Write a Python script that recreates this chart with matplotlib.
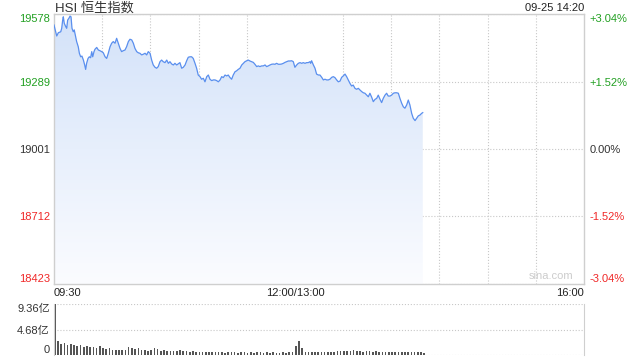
import numpy as np
import matplotlib
matplotlib.use("Agg")
import matplotlib.pyplot as plt
from matplotlib.patches import Polygon
from matplotlib.colors import LinearSegmentedColormap

plt.rcParams['font.family'] = ['Liberation Sans', 'Noto Sans CJK SC', 'DejaVu Sans']

# ---- data ----
title = "HSI 恒生指数"
stamp = "09-25 14:20"
prev_close = 19001
price_ticks = [18423, 18712, 19001, 19289, 19578]
time_labels = ["09:30", "12:00/13:00", "16:00"]
time_label_pos = [0, 150, 330]          # trading minutes after 09:30
session_len = 330

# trading minutes after 09:30 (lunch break removed) and index level
t_price = [0, 1.7, 2.7, 4.2, 4.8, 5.4, 5.8, 6.4, 7.3, 7.9, 8.5, 9.3, 10, 10.6, 11.2, 12,
           12.6, 13.5, 14.1, 15.1, 15.8, 16.6, 17.4, 18.3, 19.1, 19.7, 20.3, 21.2, 22,
           22.8, 23.5, 24.1, 24.9, 25.5, 26.6, 27.6, 28.6, 29.7, 30.7, 31.8, 32.8, 33.8,
           34.9, 35.9, 36.9, 38, 39, 40, 41.1, 42.1, 43.1, 44.2, 45.2, 46.3, 47.3, 48.4,
           49.4, 50.4, 51.5, 52.5, 53.5, 54.6, 55.6, 56.7, 57.7, 58.7, 59.8, 60.8, 61.8,
           62.9, 63.9, 64.9, 66, 67, 68, 69.1, 70.2, 71.2, 72.2, 73.3, 74.3, 75.3, 76.4,
           78.4, 79.5, 80.5, 81.6, 82.6, 83.6, 84.7, 85.7, 86.7, 87.8, 88.8, 89.8, 90.9,
           91.9, 93, 94, 95.1, 96.1, 97.1, 98.2, 99.2, 100.2, 101.3, 102.3, 103.4, 104.4,
           105.4, 106.5, 107.5, 108.5, 109.6, 110.6, 111.6, 112.7, 113.7, 114.7, 115.8,
           116.9, 117.9, 118.9, 120, 121, 122, 123.1, 124.1, 125.1, 126.2, 127.2, 128.2,
           129.3, 130.3, 131.4, 132.4, 133.4, 134.5, 135.5, 136.5, 137.6, 138.6, 139.7,
           140.7, 141.7, 142.8, 143.8, 144.9, 145.9, 146.9, 148, 149, 150, 151.1, 152.1,
           153.2, 154.2, 155.2, 156.3, 157.3, 158.3, 159.4, 159.8, 160.4, 161.5, 162.5,
           163.5, 164.6, 165.6, 166.7, 167.7, 168.7, 169.8, 170.8, 171.8, 172.9, 173.9,
           174.9, 176, 177, 178.1, 179.1, 180.1, 181.2, 182.2, 183.2, 184.3, 185.3, 186.3,
           187.4, 188.4, 189.5, 190.5, 191.6, 192.6, 193.6, 194.7, 195.7, 196.7, 197.8,
           198.8, 199.9, 200.9, 201.9, 203, 204, 205, 206.1, 207.1, 208.1, 209.2, 210.2,
           211.3, 212.3, 213.4, 214.4, 215.4, 216.5, 217.5, 218.5, 219.6, 220.6, 221.6,
           222.7, 223.7, 224.8, 225.8, 226.8, 227.9, 228.9, 229.6]
price = [19531, 19484, 19498, 19502, 19517, 19552, 19566, 19538, 19524, 19517, 19552,
         19560, 19569, 19566, 19517, 19502, 19510, 19481, 19460, 19438, 19410, 19395,
         19398, 19381, 19360, 19341, 19367, 19388, 19395, 19391, 19417, 19395, 19417,
         19427, 19435, 19424, 19421, 19417, 19412, 19395, 19388, 19410, 19438, 19453,
         19460, 19453, 19474, 19453, 19431, 19417, 19421, 19424, 19438, 19460, 19470,
         19467, 19453, 19431, 19417, 19412, 19410, 19403, 19406, 19410, 19403, 19417,
         19410, 19381, 19360, 19350, 19346, 19353, 19374, 19381, 19374, 19370, 19381,
         19367, 19374, 19364, 19360, 19367, 19360, 19370, 19346, 19350, 19360, 19378,
         19393, 19395, 19395, 19388, 19367, 19346, 19317, 19310, 19299, 19303, 19288,
         19310, 19317, 19299, 19293, 19296, 19296, 19293, 19288, 19296, 19310, 19306,
         19317, 19313, 19317, 19306, 19299, 19317, 19331, 19335, 19341, 19346, 19360,
         19367, 19374, 19378, 19381, 19377, 19374, 19371, 19363, 19353, 19356, 19353,
         19356, 19356, 19360, 19353, 19356, 19360, 19363, 19364, 19363, 19367, 19363,
         19363, 19364, 19367, 19371, 19374, 19377, 19377, 19378, 19374, 19350, 19360,
         19367, 19370, 19367, 19370, 19367, 19370, 19370, 19374, 19367, 19378, 19360,
         19346, 19321, 19317, 19317, 19307, 19296, 19299, 19296, 19296, 19299, 19307,
         19310, 19306, 19296, 19288, 19291, 19307, 19313, 19321, 19310, 19296, 19281,
         19270, 19274, 19260, 19256, 19260, 19253, 19246, 19241, 19239, 19231, 19224,
         19239, 19222, 19203, 19213, 19217, 19231, 19213, 19199, 19217, 19231, 19239,
         19227, 19227, 19231, 19239, 19241, 19241, 19239, 19217, 19196, 19181, 19175,
         19189, 19210, 19189, 19153, 19132, 19122, 19132, 19142, 19146, 19153, 19156]

# turnover per 2-minute bucket, 亿
vol_max = 9.36
volume = [9.3,
          2.6, 2.0, 2.2, 1.8, 2.1, 1.9, 1.6, 1.8, 1.5, 1.6,
          1.4, 1.5, 1.3, 1.6, 1.2, 1.1, 1.3, 1.0, 1.0, 0.9,
          1.0, 0.9, 1.4, 1.3, 1.1, 1.2, 1.0, 0.9, 0.8, 0.9,
          1.2, 1.1, 0.8, 0.9, 0.7, 0.8, 0.8, 0.7, 0.9, 0.7,
          0.7, 0.6, 0.7, 0.6, 0.5, 0.6, 0.5, 0.6, 0.5, 0.5,
          0.6, 0.5, 0.4, 0.5, 0.6, 0.5, 0.4, 0.5, 0.5, 0.4,
          0.5, 0.4, 0.5, 0.6, 0.4, 0.5, 0.4, 0.5, 0.4, 0.4,
          0.5, 0.4, 0.6, 0.5,
          1.6, 2.6, 1.3,
          0.6, 0.5, 0.6, 0.5, 0.6, 0.5, 0.6, 0.5, 0.6, 0.5,
          0.7, 0.8, 0.7, 0.8, 0.7, 0.9, 0.8, 0.7, 0.6, 0.8,
          0.7, 0.6, 0.7, 0.6, 0.5, 0.6, 0.5, 0.6, 0.5, 0.5,
          0.6, 0.5, 0.6, 0.5, 0.6, 0.5, 0.6, 0.4]
t_vol = np.arange(len(volume)) * 2

GREEN = '#22a022'
RED = '#f02828'
DARK = '#333333'
FRAME = '#cfcfcf'
GRID = '#c8c8c8'

fig = plt.figure(figsize=(6.4, 3.6), dpi=100)
W, H = 640.0, 360.0
ax = fig.add_axes([54 / W, 1 - 284 / H, 530 / W, 270 / H])
axv = fig.add_axes([54 / W, 1 - 355 / H, 530 / W, 51 / H])

ylo, yhi = price_ticks[0], price_ticks[-1]

# gradient area under the line
grad = np.linspace(0, 1, 256).reshape(-1, 1)
cmap = LinearSegmentedColormap.from_list('fade', ['#fbfcff', '#d3e2f9'])
img = ax.imshow(grad, extent=[0, t_price[-1], ylo, yhi], origin='lower',
                aspect='auto', cmap=cmap, zorder=1)
verts = np.column_stack([np.r_[t_price, t_price[-1], t_price[0]],
                         np.r_[price, ylo, ylo]])
clip = Polygon(verts, closed=True, facecolor='none', edgecolor='none',
               transform=ax.transData)
ax.add_patch(clip)
img.set_clip_path(clip)

ax.plot(t_price, price, color='#5a8fee', lw=0.9, zorder=3)

ax.set_xlim(0, session_len)
ax.set_ylim(ylo, yhi)
for s in ax.spines.values():
    s.set_color(FRAME)
    s.set_linewidth(1)

ax.set_xticks(list(range(30, session_len, 30)), minor=True)
ax.set_xticks(time_label_pos)
ax.set_xticklabels(time_labels, fontsize=8, color='#222222')
xl = ax.get_xticklabels()
xl[0].set_ha('left')
xl[-1].set_ha('right')
ax.set_yticks(price_ticks)
ax.set_yticklabels([str(v) for v in price_ticks], fontsize=8)
ax.tick_params(axis='both', which='both', length=0)
ax.tick_params(axis='x', pad=3)
ax.tick_params(axis='y', pad=3)
ax.grid(which='minor', axis='x', color=GRID, ls=':', lw=0.8)
ax.grid(which='major', axis='y', color=GRID, ls=':', lw=0.8)
ax.grid(which='major', axis='x', visible=False)
ax.set_axisbelow(True)


def color_for(v):
    if v > prev_close:
        return GREEN
    if v < prev_close:
        return RED
    return DARK


yl = ax.get_yticklabels()
for lab, v in zip(yl, price_ticks):
    lab.set_color(color_for(v))
yl[0].set_va('bottom')
yl[-1].set_va('top')

axr = ax.twinx()
axr.set_ylim(ylo, yhi)
axr.set_yticks(price_ticks)
pct = []
for v in price_ticks:
    p = (v - prev_close) / prev_close * 100
    pct.append(('+' if p > 0.005 else '') + '%.2f%%' % p)
axr.set_yticklabels(pct, fontsize=8)
axr.tick_params(length=0, pad=4)
for s in axr.spines.values():
    s.set_visible(False)
rl = axr.get_yticklabels()
for lab, v in zip(rl, price_ticks):
    lab.set_color(color_for(v))
rl[0].set_va('bottom')
rl[-1].set_va('top')

ax.text(0.98, 0.012, 'sina.com', transform=ax.transAxes, ha='right', va='bottom',
        fontsize=8, color='#cccccc', zorder=4)

fig.text(55 / W, 1 - 8 / H, title, fontsize=9.5, color=DARK, ha='left', va='center')
fig.text(584 / W, 1 - 8 / H, stamp, fontsize=8, color='#222222', ha='right', va='center')

# volume panel
axv.bar(t_vol, volume, width=1.0, align='edge', color='#555555', zorder=2)
axv.set_xlim(0, session_len)
axv.set_ylim(0, vol_max)
axv.set_xticks([])
axv.set_yticks([0, vol_max / 2, vol_max])
axv.set_yticklabels(['0', '%.2f亿' % (vol_max / 2), '%.2f亿' % vol_max], fontsize=8, color=DARK)
axv.tick_params(length=0, pad=3)
vl = axv.get_yticklabels()
vl[0].set_va('bottom')
vl[-1].set_va('top')
for k in ['left', 'right']:
    axv.spines[k].set_color(FRAME)
for k in ['top', 'bottom']:
    axv.spines[k].set_visible(False)
for v in [0, vol_max / 2, vol_max]:
    axv.axhline(v, color=GRID, ls=':', lw=0.8, zorder=1)

fig.savefig('out.png', dpi=100)
